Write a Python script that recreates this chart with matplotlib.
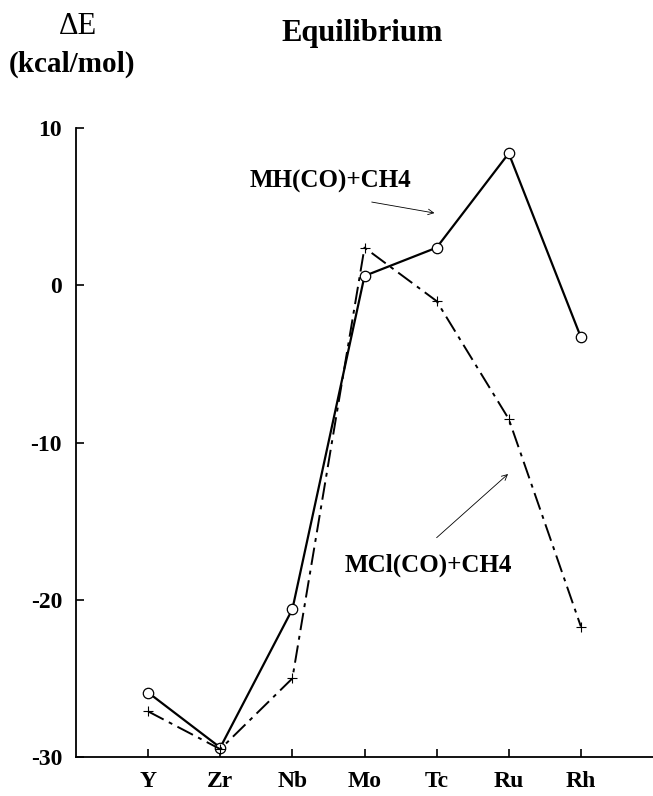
import numpy as np
import matplotlib.pyplot as plt

plt.rcParams['font.family'] = ['Liberation Serif', 'DejaVu Serif']

metals = ['Y', 'Zr', 'Nb', 'Mo', 'Tc', 'Ru', 'Rh']
mh_co = [-25.9, -29.4, -20.6, 0.6, 2.4, 8.4, -3.3]
mcl_co = [-27.1, -29.5, -25.0, 2.4, -1.0, -8.5, -21.7]
yticks = [-30, -20, -10, 0, 10]

x = np.arange(1, len(metals) + 1)

fig = plt.figure(figsize=(6.53, 7.96), dpi=100)
ax = fig.add_axes([0.1164, 0.049, 0.8836, 0.790])

ax.plot(x, mh_co, color='black', lw=1.6, marker='o', ms=7.5, mfc='white',
        mec='black', mew=0.9)
ax.plot(x, mcl_co, color='black', lw=1.4, dashes=(9, 3, 2, 3), marker='+',
        ms=7, mew=0.8)

ax.set_xlim(0, 8)
ax.set_ylim(-30, 10)
ax.set_xticks(x)
ax.set_xticklabels(metals, fontsize=17, fontweight='bold')
ax.set_yticks(yticks)
ax.set_yticklabels([str(v) for v in yticks], fontsize=17, fontweight='bold')
ax.tick_params(direction='in', length=6, width=1.2)
ax.tick_params(axis='x', pad=10)
ax.tick_params(axis='y', pad=10)
for s in ['top', 'right']:
    ax.spines[s].set_visible(False)
for s in ['left', 'bottom']:
    ax.spines[s].set_linewidth(1.3)

# labels and their pointer arrows
ax.text(3.53, 6.6, 'MH(CO)+CH4', fontsize=18, fontweight='bold',
        ha='center', va='center')
ax.annotate('', xy=(4.97, 4.6), xytext=(4.10, 5.3),
            arrowprops=dict(arrowstyle='->', lw=0.6, color='black',
                            shrinkA=0, shrinkB=0))
ax.text(4.89, -17.8, 'MCl(CO)+CH4', fontsize=18, fontweight='bold',
        ha='center', va='center')
ax.annotate('', xy=(5.99, -12.0), xytext=(5.0, -16.05),
            arrowprops=dict(arrowstyle='->', lw=0.6, color='black',
                            shrinkA=0, shrinkB=0))

W, H = 653, 796
fig.text(78 / W, 1 - 27 / H, '\u0394E', fontsize=22, ha='center', va='center')
fig.text(72 / W, 1 - 64 / H, '(kcal/mol)', fontsize=21, fontweight='bold',
         ha='center', va='center')
fig.text(362 / W, 1 - 33 / H, 'Equilibrium', fontsize=22, fontweight='bold',
         ha='center', va='center')

fig.savefig('out.png', dpi=100)
